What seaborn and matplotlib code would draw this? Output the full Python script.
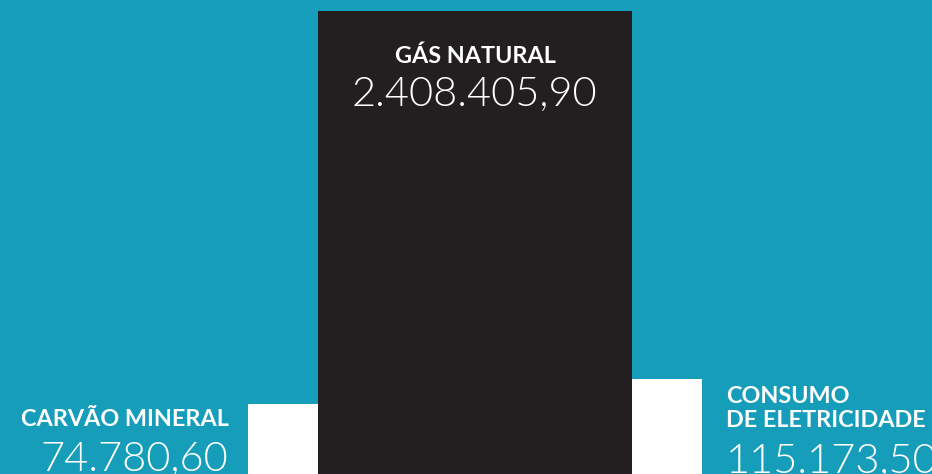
import numpy as np
import pandas as pd
import matplotlib
matplotlib.use("Agg")
import matplotlib.pyplot as plt
import seaborn as sns

# data
categories = ["CARVÃO MINERAL", "GÁS NATURAL", "CONSUMO\nDE ELETRICIDADE"]
values = [74780.60, 2408405.90, 115173.50]
bar_colors = ["#FFFFFF", "#231F20", "#FFFFFF"]

BG = "#169DBA"
W, H = 932, 474


def fmt_br(v):
    s = f"{v:,.2f}"
    return s.replace(",", "X").replace(".", ",").replace("X", ".")


df = pd.DataFrame({"cat": categories, "val": values})

sns.set_theme(style="white")
plt.rcParams["font.family"] = ["Lato", "DejaVu Sans"]

fig = plt.figure(figsize=(W / 100, H / 100), dpi=100, facecolor=BG)
ax = fig.add_axes([0, 0, 1, 1])
ax.set_facecolor(BG)

sns.barplot(data=df, x="cat", y="val", hue="cat", palette=bar_colors,
            legend=False, ax=ax, saturation=1, linewidth=0)

# compressed vertical scale so the small bars stay visible
p = 0.4
ax.set_yscale("function", functions=(lambda y: np.sign(y) * np.abs(y) ** p,
                                     lambda y: np.sign(y) * np.abs(y) ** (1 / p)))
ax.set_ylim(10900, 2.54e6)

# bar geometry in pixel units
ax.set_xlim(0, W)
lefts = [248, 318, 632]
widths = [70, 314, 70]
for patch, l, w in zip(ax.patches, lefts, widths):
    patch.set_x(l)
    patch.set_width(w)

ax.set_axis_off()

lbl = dict(color="white", fontweight="bold", fontsize=16.8, transform=ax.transAxes, va="baseline")
num = dict(color="white", fontweight=300, fontsize=30, transform=ax.transAxes, va="baseline")

def yy(px):
    return 1 - px / H

# gás natural
ax.text(475 / W, yy(63), categories[1], ha="center", **lbl)
ax.text(474 / W, yy(106), fmt_br(values[1]), ha="center", **num)

# carvão mineral
ax.text(229 / W, yy(426), categories[0], ha="right", **lbl)
ax.text(228 / W, yy(471), fmt_br(values[0]), ha="right", **num)

# consumo de eletricidade
ax.text(726 / W, yy(427), categories[2], ha="left", linespacing=1.2, **lbl)
ax.text(726 / W, yy(473), fmt_br(values[2]), ha="left", **num)

fig.savefig("out.png", dpi=100, facecolor=BG)
